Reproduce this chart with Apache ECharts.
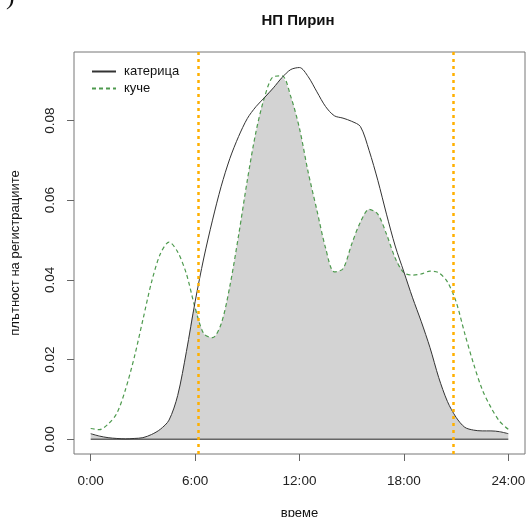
<!DOCTYPE html>
<html><head><meta charset="utf-8">
<script src="https://cdn.jsdelivr.net/npm/echarts@6/dist/echarts.min.js"></script>
<style>html,body{margin:0;padding:0;background:#fff}#c{width:527px;height:517px}</style>
</head><body><div id="c"></div>
<script>
// hours of day (x), density estimates
const hours = [0,0.5,1,1.5,2,2.5,3,3.5,4,4.5,5,5.5,6,6.5,7,7.5,8,8.5,9,9.5,10,10.5,11,11.5,12,12.5,13,13.5,14,14.5,15,15.5,16,16.5,17,17.5,18,18.5,19,19.5,20,20.5,21,21.5,22,22.5,23,23.5,24];
const squirrel = [0.0014,0.0008,0.0004,0.0002,0.0001,0.0002,0.0004,0.0012,0.0025,0.0048,0.011,0.022,0.0345,0.0455,0.055,0.0635,0.0705,0.076,0.0805,0.0835,0.0858,0.0882,0.0908,0.0928,0.0933,0.091,0.0872,0.0835,0.0812,0.0806,0.0798,0.0785,0.0725,0.065,0.0565,0.0485,0.042,0.0355,0.0295,0.023,0.0155,0.0095,0.0055,0.003,0.0023,0.0021,0.0021,0.0019,0.0014];
const dog = [0.0027,0.0024,0.0038,0.0065,0.0125,0.0205,0.030,0.0395,0.0465,0.0495,0.047,0.0415,0.033,0.0265,0.0255,0.029,0.0385,0.0512,0.065,0.0772,0.086,0.091,0.0912,0.086,0.078,0.067,0.0575,0.048,0.042,0.0428,0.049,0.0545,0.0577,0.0565,0.0515,0.0455,0.0418,0.0412,0.0415,0.0422,0.0418,0.0395,0.0345,0.0265,0.019,0.0125,0.008,0.0045,0.0025];
const seriesNames = ['катерица','куче'];
const xTicks = [0,6,12,18,24];
const xTickLabels = ['0:00','6:00','12:00','18:00','24:00'];
const yTicks = [0,0.02,0.04,0.06,0.08];
const yTickLabels = ['0.00','0.02','0.04','0.06','0.08'];
const vLines = [6.17,20.85];
const titleText = 'НП Пирин';
const xName = 'време';
const yName = 'плътност на регистрациите';

const sqData = hours.map((h,i)=>[h,squirrel[i]]);
const dogData = hours.map((h,i)=>[h,dog[i]]);
const overlap = hours.map((h,i)=>[h,Math.min(squirrel[i],dog[i])]);
const font = 'Liberation Sans, Arial, sans-serif';

const chart = echarts.init(document.getElementById('c'));
chart.setOption({
  animation:false,
  backgroundColor:'#fff',
  textStyle:{fontFamily:font},
  title:{text:titleText,left:298,textAlign:'center',top:13,padding:0,
    textStyle:{fontFamily:font,fontSize:15,fontWeight:'bold',color:'#111'}},
  graphic:[{type:'text',left:6,top:-16,style:{text:')',font:'26px "Liberation Serif", serif',fill:'#111'}}],
  legend:{data:seriesNames,orient:'vertical',left:86,top:60,itemWidth:24,itemHeight:12,itemGap:4,
    itemStyle:{opacity:0},
    textStyle:{fontFamily:font,fontSize:13,color:'#111',padding:[0,0,0,3]}},
  grid:{left:74,top:52,width:451,height:402,show:true,borderColor:'#777',borderWidth:1,
    containLabel:false,outerBoundsMode:'none'},
  xAxis:{type:'value',min:-0.96,max:24.96,
    name:xName,nameLocation:'middle',nameGap:53,nameTextStyle:{fontFamily:font,fontSize:13,color:'#111'},
    axisLine:{show:false,onZero:false},splitLine:{show:false},
    axisTick:{show:true,length:7,inside:false,customValues:xTicks,lineStyle:{color:'#666'}},
    axisLabel:{customValues:xTicks,margin:20,fontSize:13.5,color:'#222',fontFamily:font,
      formatter:v=>xTickLabels[xTicks.indexOf(v)]}},
  yAxis:{type:'value',min:-0.0037,max:0.0972,
    name:yName,nameLocation:'middle',nameGap:52,nameTextStyle:{fontFamily:font,fontSize:13,color:'#111'},
    axisLine:{show:false,onZero:false},splitLine:{show:false},
    axisTick:{show:true,length:7,inside:false,customValues:yTicks,lineStyle:{color:'#666'}},
    axisLabel:{customValues:yTicks,rotate:90,margin:17,fontSize:13.5,color:'#222',fontFamily:font,
      formatter:v=>yTickLabels[yTicks.indexOf(Math.round(v*100)/100)]}},
  series:[
    {name:'overlap',type:'line',data:overlap,smooth:0.3,symbol:'none',z:1,
      lineStyle:{width:0},areaStyle:{color:'#d3d3d3',opacity:1,origin:0},silent:true},
    {name:'base',type:'line',data:[[0,0],[24,0]],symbol:'none',z:2,
      lineStyle:{color:'#666',width:1.5},silent:true},
    {name:seriesNames[1],type:'line',data:dogData,smooth:0.3,symbol:'none',z:3,
      lineStyle:{color:'#4e9a4e',width:1.2,type:[4,3]},itemStyle:{color:'#4e9a4e'}},
    {name:seriesNames[0],type:'line',data:sqData,smooth:0.3,symbol:'none',z:4,
      lineStyle:{color:'#333',width:1},itemStyle:{color:'#333'},
      markLine:{silent:true,symbol:'none',label:{show:false},
        lineStyle:{color:'#FFB000',width:2.5,type:[3,4]},
        data:vLines.map(v=>({xAxis:v}))}}
  ]
});
</script></body></html>
